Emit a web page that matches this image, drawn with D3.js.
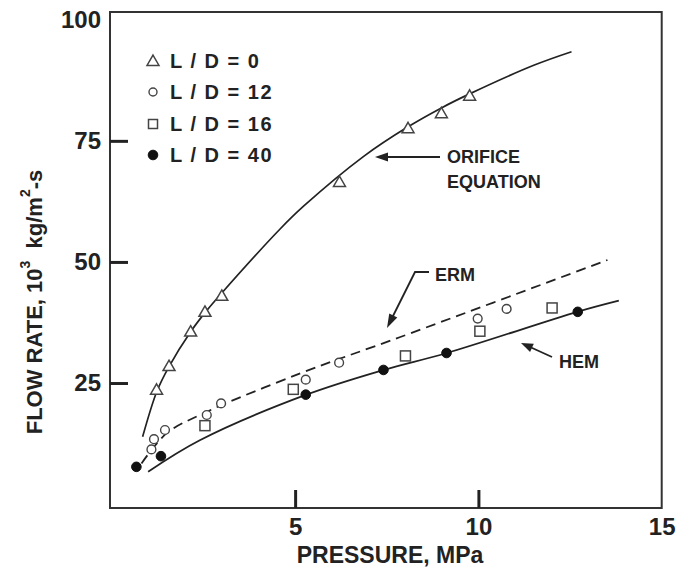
<!DOCTYPE html>
<html><head><meta charset="utf-8">
<script src="https://cdn.jsdelivr.net/npm/d3@7"></script>
<style>body{margin:0;background:#fff}</style>
</head><body><svg id="c" width="679" height="576" xmlns="http://www.w3.org/2000/svg"></svg>
<script>
// ---- data ----
const xTicks = [5, 10, 15];
const yTicks = [25, 50, 75, 100];

// L/D = 0 (open triangles)
const pLD0 = [1.22, 1.56, 2.15, 2.54, 3.0, 6.21, 8.08, 8.99, 9.76];
const fLD0 = [23.4, 28.3, 35.4, 39.5, 42.8, 66.3, 77.4, 80.5, 84.1];
// L/D = 12 (open circles)
const pLD12 = [1.08, 1.15, 1.45, 2.59, 2.98, 5.29, 6.20, 9.98, 10.77];
const fLD12 = [11.3, 13.4, 15.3, 18.4, 20.8, 25.7, 29.2, 38.3, 40.3];
// L/D = 16 (open squares)
const pLD16 = [2.54, 4.95, 8.01, 10.04, 12.01];
const fLD16 = [16.2, 23.7, 30.6, 35.7, 40.5];
// L/D = 40 (filled circles)
const pLD40 = [0.67, 1.34, 5.29, 7.41, 9.13, 12.71];
const fLD40 = [7.7, 9.9, 22.6, 27.7, 31.2, 39.7];

// model curves
const orificeP = [0.84, 1.23, 1.56, 2.16, 2.57, 3.0, 4.59, 5.23, 6.87, 8.08, 8.99, 9.76, 11.51, 12.54];
const orificeF = [13.9, 23.3, 28.4, 35.7, 39.8, 43.6, 56.8, 61.5, 71.8, 77.9, 81.8, 84.7, 90.6, 93.4];
const ermP = [0.81, 1.49, 2.40, 5.14, 7.87, 13.52];
const ermF = [8.4, 14.6, 18.4, 27.0, 34.5, 50.4];
const hemP = [0.99, 2.40, 5.27, 7.41, 9.14, 12.7, 13.83];
const hemF = [6.7, 13.2, 22.5, 27.7, 31.2, 39.7, 42.0];

const legendLabels = ["L / D = 0", "L / D = 12", "L / D = 16", "L / D = 40"];

// ---- drawing ----
const FONT = "'Liberation Sans', Arial, Helvetica, sans-serif";
const INK = "#222";
const svg = d3.select("#c");

const x = d3.scaleLinear().domain([-0.05, 15]).range([110, 661.7]);
const y = d3.scaleLinear().domain([-0.8, 101.6]).range([508, 12]);

// frame
svg.append("rect")
  .attr("x", x(-0.05)).attr("y", y(101.6))
  .attr("width", x(15) - x(-0.05)).attr("height", y(-0.8) - y(101.6))
  .attr("fill", "none").attr("stroke", "#333").attr("stroke-width", 2);

// axes
const yAxis = svg.append("g").attr("transform", `translate(${x(-0.05)},0)`)
  .call(d3.axisLeft(y).tickValues(yTicks).tickSize(-18).tickPadding(9));
yAxis.select(".domain").remove();
yAxis.selectAll(".tick line").attr("stroke", INK).attr("stroke-width", 3);
yAxis.selectAll(".tick").filter(d => d === 100).select("line").remove();
yAxis.selectAll(".tick text").attr("font-size", 24).attr("font-weight", "bold")
  .attr("font-family", FONT).attr("fill", INK);

const xAxis = svg.append("g").attr("transform", `translate(0,${y(-0.8)})`)
  .call(d3.axisBottom(x).tickValues(xTicks).tickSize(-18).tickPadding(10));
xAxis.select(".domain").remove();
xAxis.selectAll(".tick line").attr("stroke", INK).attr("stroke-width", 3);
xAxis.selectAll(".tick").filter(d => d === 15).select("line").remove();
xAxis.selectAll(".tick text").attr("font-size", 24).attr("font-weight", "bold")
  .attr("font-family", FONT).attr("fill", INK);

// axis titles
svg.append("text").attr("x", 390).attr("y", 563).attr("text-anchor", "middle")
  .attr("font-family", FONT).attr("font-weight", "bold").attr("font-size", 23)
  .attr("fill", INK).text("PRESSURE, MPa");

const yt = svg.append("text").attr("text-anchor", "middle")
  .attr("font-family", FONT).attr("font-weight", "bold").attr("font-size", 22)
  .attr("fill", INK).attr("dominant-baseline", "central")
  .attr("transform", "translate(34,302) rotate(-90)");
yt.append("tspan").text("FLOW RATE, 10");
yt.append("tspan").attr("font-size", 14).attr("dy", -9).text("3");
yt.append("tspan").attr("dy", 9).text("\u00a0\u00a0kg/m");
yt.append("tspan").attr("font-size", 14).attr("dy", -9).text("2");
yt.append("tspan").attr("dy", 9).text("-s");

// curves
const line = d3.line().x(d => x(d[0])).y(d => y(d[1])).curve(d3.curveCatmullRom.alpha(0.5));
const zip = (a, b) => a.map((v, i) => [v, b[i]]);
svg.append("path").datum(zip(orificeP, orificeF)).attr("d", line)
  .attr("fill", "none").attr("stroke", INK).attr("stroke-width", 1.7);
svg.append("path").datum(zip(ermP, ermF)).attr("d", line)
  .attr("fill", "none").attr("stroke", INK).attr("stroke-width", 1.8).attr("stroke-dasharray", "10,6");
svg.append("path").datum(zip(hemP, hemF)).attr("d", line)
  .attr("fill", "none").attr("stroke", INK).attr("stroke-width", 1.8);

// markers
const MK = "#444";
const tri = d3.symbol(d3.symbolTriangle, 62);
function drawTri(g, px, py) {
  g.append("path").attr("d", tri()).attr("transform", `translate(${px},${py})`)
    .attr("fill", "#fff").attr("stroke", MK).attr("stroke-width", 1.5);
}
function drawCirc(g, px, py, filled, r) {
  g.append("circle").attr("cx", px).attr("cy", py).attr("r", r)
    .attr("fill", filled ? "#111" : "#fff").attr("stroke", filled ? "#111" : MK).attr("stroke-width", filled ? 1 : 1.4);
}
function drawSq(g, px, py, s) {
  g.append("rect").attr("x", px - s / 2).attr("y", py - s / 2).attr("width", s).attr("height", s)
    .attr("fill", "#fff").attr("stroke", MK).attr("stroke-width", 1.5);
}
const gm = svg.append("g");
zip(pLD0, fLD0).forEach(d => drawTri(gm, x(d[0]), y(d[1])));
zip(pLD12, fLD12).forEach(d => drawCirc(gm, x(d[0]), y(d[1]), false, 4.4));
zip(pLD16, fLD16).forEach(d => drawSq(gm, x(d[0]), y(d[1]), 10));
zip(pLD40, fLD40).forEach(d => drawCirc(gm, x(d[0]), y(d[1]), true, 4.8));

// legend
const legY = [61, 92, 124, 155];
const gl = svg.append("g");
drawTri(gl, 153, legY[0] + 1);
drawCirc(gl, 153, legY[1], false, 4);
drawSq(gl, 153, legY[2], 9);
drawCirc(gl, 153, legY[3], true, 4.8);
legendLabels.forEach((t, i) => {
  gl.append("text").attr("x", 170).attr("y", legY[i]).attr("dy", "0.36em")
    .attr("font-family", FONT).attr("font-weight", "bold").attr("font-size", 20)
    .attr("letter-spacing", 1.5).attr("fill", INK).attr("xml:space", "preserve").text(t);
});

// annotations
function arrowHead(tipX, tipY, fromX, fromY, len, half) {
  const a = Math.atan2(tipY - fromY, tipX - fromX);
  const bx = tipX - len * Math.cos(a), by = tipY - len * Math.sin(a);
  const nx = -Math.sin(a) * half, ny = Math.cos(a) * half;
  svg.append("path").attr("d", `M${tipX},${tipY}L${bx + nx},${by + ny}L${bx - nx},${by - ny}Z`).attr("fill", INK);
}
function label(t, px, py) {
  svg.append("text").attr("x", px).attr("y", py).attr("dy", "0.36em")
    .attr("font-family", FONT).attr("font-weight", "bold").attr("font-size", 18)
    .attr("fill", INK).text(t);
}
label("ORIFICE", 447, 157);
label("EQUATION", 447, 182);
svg.append("line").attr("x1", 440).attr("y1", 157).attr("x2", 385).attr("y2", 157).attr("stroke", INK).attr("stroke-width", 1.8);
arrowHead(375, 157, 440, 157, 13, 4.5);

label("ERM", 435, 275);
svg.append("polyline").attr("points", "429,272 415,272 392,318").attr("fill", "none").attr("stroke", INK).attr("stroke-width", 1.8);
arrowHead(387, 328, 415, 272, 14, 4.5);

label("HEM", 559, 362);
svg.append("line").attr("x1", 552).attr("y1", 357).attr("x2", 530).attr("y2", 347).attr("stroke", INK).attr("stroke-width", 1.8);
arrowHead(521, 343, 552, 357, 12, 4.5);
</script></body></html>
